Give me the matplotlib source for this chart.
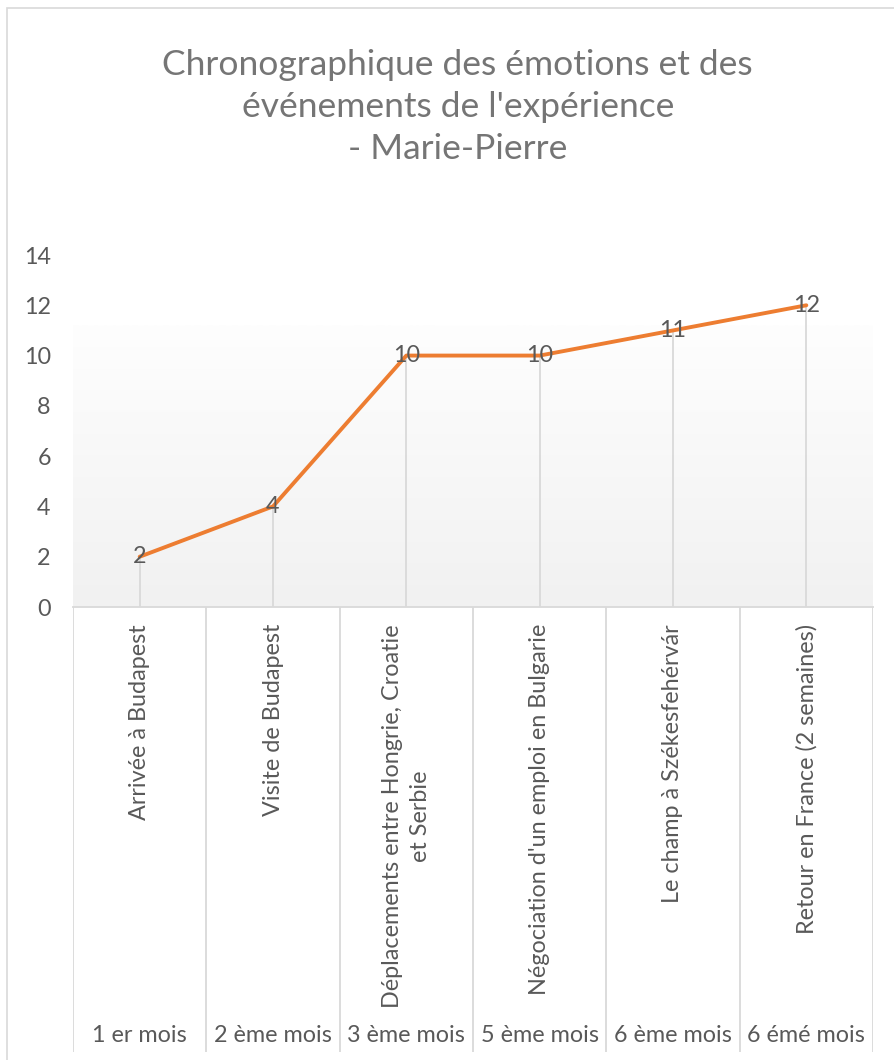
import numpy as np
import matplotlib.pyplot as plt
from matplotlib.colors import LinearSegmentedColormap
from matplotlib.patches import Rectangle

plt.rcParams['font.family'] = ['Lato', 'DejaVu Sans']

# ===== Data =====
events = ["Arrivée à Budapest",
          "Visite de Budapest",
          "Déplacements entre Hongrie, Croatie\net Serbie",
          "Négociation d'un emploi en Bulgarie",
          "Le champ à Székesfehérvár",
          "Retour en France (2 semaines)"]
months = ["1 er mois", "2 ème mois", "3 ème mois", "5 ème mois", "6 ème mois", "6 émé mois"]
scores = [2, 4, 10, 10, 11, 12]
yticks = [0, 2, 4, 6, 8, 10, 12, 14]

title = "Chronographique des émotions et des\névénements de l'expérience\n- Marie-Pierre"

W, H = 894, 1060
GRID = '#d9d9d9'
TXT = '#595959'
FS = 16.8

fig = plt.figure(figsize=(W / 100, H / 100), dpi=100)

# chart border (cut off at right/bottom like the screenshot)
fig.add_artist(Rectangle((7 / W, -0.1), 2, 1 - 8 / H + 0.1, transform=fig.transFigure,
                         fill=False, ec=GRID, lw=1.2))

fig.text(0.512, 1 - 107 / H, title, ha='center', va='center', fontsize=25.5,
         color='#757575', linespacing=1.4)

# ===== main plot area =====
left, right = 73 / W, 873 / W
ax = fig.add_axes([left, 1 - 607 / H, right - left, (607 - 255) / H])
x = np.arange(len(scores))

grad = np.linspace(0, 1, 256).reshape(-1, 1)
cmap = LinearSegmentedColormap.from_list('g', ['#f1f1f1', '#fefefe'])
ax.imshow(grad, extent=[-0.5, len(scores) - 0.5, 0, 11.2], origin='lower',
          aspect='auto', cmap=cmap, zorder=0)

ax.vlines(x, 0, scores, color=GRID, lw=1.3, zorder=1)
ax.plot(x, scores, color='#ED7D31', lw=2.8, solid_capstyle='round', zorder=2)
for xi, v in zip(x, scores):
    ax.text(xi, v, str(v), ha='center', va='center', color=TXT, fontsize=FS, zorder=3)

ax.set_xlim(-0.5, len(scores) - 0.5)
ax.set_ylim(yticks[0], yticks[-1])
ax.set_yticks(yticks)
ax.set_yticklabels([str(t) for t in yticks])
ax.tick_params(axis='y', length=0, pad=16, labelsize=FS, labelcolor=TXT)
ax.set_xticks([])
for s in ['left', 'right', 'top']:
    ax.spines[s].set_visible(False)
ax.spines['bottom'].set_color(GRID)
ax.spines['bottom'].set_linewidth(1.3)
ax.patch.set_alpha(0)

# ===== two-level category axis =====
tb = fig.add_axes([left, 1 - 1052 / H, right - left, (1052 - 607) / H])
tb.set_xlim(-0.5, len(scores) - 0.5)
tb.set_ylim(0, 1)
tb.axis('off')
tb.vlines(np.arange(len(scores) + 1) - 0.5, 0, 1, color=GRID, lw=1.3)
for xi, ev, mo in zip(x, events, months):
    tb.text(xi, 1 - 17 / 445, ev, rotation=90, ha='center', va='top',
            multialignment='center', color=TXT, fontsize=FS, linespacing=1.4)
    tb.text(xi, 17 / 445, mo, ha='center', va='center', color=TXT, fontsize=FS)

fig.savefig('out.png', dpi=100, facecolor='white')
